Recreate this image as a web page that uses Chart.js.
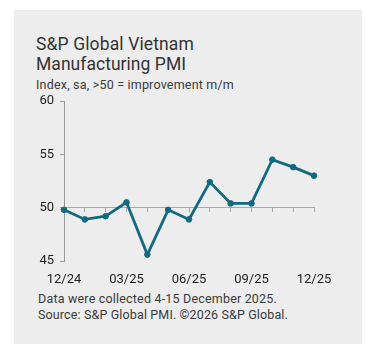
<!DOCTYPE html>
<html><head><meta charset="utf-8">
<script src="https://cdn.jsdelivr.net/npm/chart.js@4"></script>
<style>
html,body{margin:0;padding:0;background:#fff;width:376px;height:357px;overflow:hidden;}
#panel{position:absolute;left:14px;top:10px;width:348px;height:334px;background:#ededed;}
.t{position:absolute;font-family:Roboto, "Liberation Sans", sans-serif;color:#3a3a3a;white-space:nowrap;}
.t span{display:block;}
.t span i{font-style:normal;display:inline-block;}
#title{left:36px;top:34px;font-size:17.5px;line-height:20px;color:#333;}
#sub{left:36px;top:78px;font-size:12.5px;line-height:14px;}
#foot{left:38px;top:291px;font-size:12.5px;line-height:16px;}
#wrap{position:absolute;left:0;top:0;width:376px;height:357px;}
</style></head>
<body>
<div id="panel"></div>
<div class="t" id="title"><span data-w="158"><i>S&amp;P Global Vietnam</i></span><span data-w="150"><i>Manufacturing PMI</i></span></div>
<div class="t" id="sub"><span data-w="198"><i>Index, sa, &gt;50 = improvement m/m</i></span></div>
<div class="t" id="foot"><span data-w="239"><i>Data were collected 4-15 December 2025.</i></span><span data-w="250"><i>Source: S&amp;P Global PMI. ©2026 S&amp;P Global.</i></span></div>
<div id="wrap"><canvas id="c" width="376" height="357"></canvas></div>
<script>
// fit each text line's letter-spacing to the width measured on the reference
document.querySelectorAll('.t span').forEach(sp => {
  const inner = sp.querySelector('i');
  const target = parseFloat(sp.dataset.w);
  const w = inner.getBoundingClientRect().width;
  const n = inner.textContent.length;
  sp.style.letterSpacing = ((target - w) / n).toFixed(3) + 'px';
});

const months = ['12/24','01/25','02/25','03/25','04/25','05/25','06/25','07/25','08/25','09/25','10/25','11/25','12/25'];
const pmi = [49.8,48.9,49.2,50.5,45.6,49.8,48.9,52.4,50.4,50.4,54.5,53.8,53.0];
const labelEvery = 3;
const yMin = 45, yMax = 60, yStep = 5, baseline = 50;

const tickFont = {family:'Roboto, "Liberation Sans", sans-serif', size:13};
const lineColor = '#136a80';

new Chart(document.getElementById('c'), {
  type:'line',
  data:{labels:months, datasets:[{data:pmi, borderColor:lineColor, backgroundColor:lineColor,
    pointBackgroundColor:lineColor, pointBorderColor:lineColor, borderWidth:2.8, pointRadius:2.8,
    pointBorderWidth:1, tension:0, clip:false}]},
  options:{
    responsive:false, animation:false, devicePixelRatio:1,
    plugins:{legend:{display:false}, tooltip:{enabled:false}},
    layout:{padding:{left:30,right:62,top:101,bottom:72}},
    scales:{
      x:{type:'category', position:{y:baseline}, offset:false,
        grid:{drawOnChartArea:false, drawTicks:true, tickLength:4, color:'#a8a8a8'},
        border:{color:'#a8a8a8', width:1},
        ticks:{display:false}},
      x2:{type:'category', position:'bottom', labels:months, offset:false,
        grid:{display:false, drawTicks:false}, border:{display:false},
        ticks:{autoSkip:false, maxRotation:0, padding:11, color:'#1e1e1e', font:tickFont,
          callback:(v,i)=> i % labelEvery === 0 ? months[i] : ''},
        afterFit:s=>{s.height=24;}},
      y:{min:yMin, max:yMax,
        grid:{drawOnChartArea:false, tickLength:4, color:'#999'},
        border:{color:'#999', width:1},
        ticks:{stepSize:yStep, padding:6, color:'#1e1e1e', font:tickFont},
        afterFit:s=>{s.width=34;}}
    }
  }
});
</script>
</body></html>
